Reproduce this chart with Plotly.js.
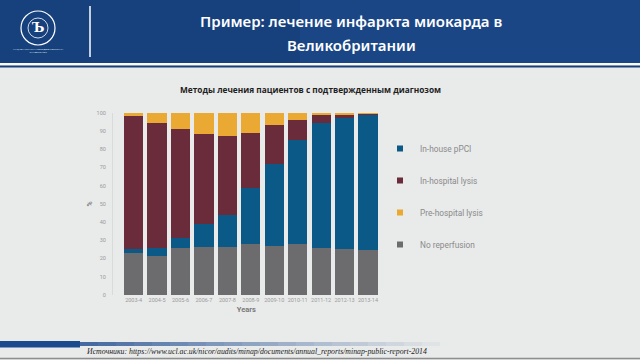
<!DOCTYPE html>
<html><head><meta charset="utf-8">
<script src="https://cdn.plot.ly/plotly-3.0.1.min.js"></script>
<style>html,body{margin:0;padding:0;background:#e9eaea;}#chart{width:640px;height:360px;}</style>
</head><body><div id="chart"></div>
<script>
const years = ["2003-4","2004-5","2005-6","2006-7","2007-8","2008-9","2009-10","2010-11","2011-12","2012-13","2013-14"];
const noReperfusion = [23, 21.5, 26, 26.5, 26.5, 28, 27, 28, 26, 25.5, 24.5];
const inHousePPCI   = [2, 4.5, 5.5, 12.5, 17.5, 30.5, 45, 57, 68.5, 71.5, 74];
const inHospitalLysis = [73, 68.5, 59.5, 49.5, 43, 30.5, 21, 11, 4, 2, 1];
const preHospitalLysis = [2, 5.5, 9, 11.5, 13, 11, 7, 4, 1.5, 1, 0.5];
const yTicks = [0,10,20,30,40,50,60,70,80,90,100];

const seriesNames = ["No reperfusion","In-house pPCI","In-hospital lysis","Pre-hospital lysis"];
const seriesValues = [noReperfusion, inHousePPCI, inHospitalLysis, preHospitalLysis];
const seriesColors = ["#6c6c6f","#0a5986","#6a2b3b","#eaa933"];
const legendRanks = [4,1,2,3];

const W = 640, H = 360;
const px = v => v / W;
const py = v => 1 - v / H;

const traces = [];
seriesNames.forEach((n, i) => {
  traces.push({type:'bar', x: years, y: seriesValues[i], name: n, marker:{color: seriesColors[i]},
    showlegend:false, hoverinfo:'x+y+name'});
});
seriesNames.forEach((n, i) => {
  traces.push({type:'scatter', mode:'markers', x:[null], y:[null], name:n, legendrank: legendRanks[i],
    legendgroup:'g'+i, marker:{symbol:'square', size:6, color: seriesColors[i]}, hoverinfo:'skip'});
});

const shapes = [];
// header
shapes.push({type:'rect', xref:'paper', yref:'paper', x0:0, x1:1, y0:py(63), y1:1, fillcolor:'#1a4686', line:{width:0}, layer:'below'});
shapes.push({type:'rect', xref:'paper', yref:'paper', x0:0, x1:px(300), y0:py(63), y1:1, fillcolor:'#163d78', opacity:0.6, line:{width:0}, layer:'below'});
shapes.push({type:'line', xref:'paper', yref:'paper', x0:0, x1:1, y0:py(64), y1:py(64), line:{color:'#ffffff', width:1.5}});
shapes.push({type:'line', xref:'paper', yref:'paper', x0:0, x1:1, y0:py(66.5), y1:py(66.5), line:{color:'#1a3f78', width:2}});
shapes.push({type:'line', xref:'paper', yref:'paper', x0:px(90), x1:px(90), y0:py(6), y1:py(57), line:{color:'#ffffff', width:1.5}});
// logo
shapes.push({type:'circle', xref:'paper', yref:'paper', x0:px(21), x1:px(55), y0:py(45), y1:py(11), line:{color:'#ffffff', width:1.2}});
shapes.push({type:'circle', xref:'paper', yref:'paper', x0:px(28), x1:px(48), y0:py(38), y1:py(18), line:{color:'#ffffff', width:0.8}});
// footer
shapes.push({type:'rect', xref:'paper', yref:'paper', x0:0, x1:px(80), y0:py(347.5), y1:py(341), fillcolor:'#1c4a8e', line:{width:0}});
for (let k = 0; k < 20; k++) {
  const a = px(80 + k*18), b = px(80 + (k+1)*18);
  shapes.push({type:'rect', xref:'paper', yref:'paper', x0:a, x1:b, y0:py(346), y1:py(342), fillcolor:'#1c4a8e', opacity: 0.8*(1-k/20), line:{width:0}});
}
shapes.push({type:'line', xref:'paper', yref:'paper', x0:0, x1:1, y0:py(358.5), y1:py(358.5), line:{color:'#8d8d8d', width:1.5}});

const annotations = [
  {xref:'paper', yref:'paper', x:px(351), y:py(21), text:'Пример: лечение инфаркта миокарда в', showarrow:false,
    font:{family:'Noto Sans, sans-serif', size:15, weight:600, color:'#ffffff'}, xanchor:'center', yanchor:'middle'},
  {xref:'paper', yref:'paper', x:px(351), y:py(45), text:'Великобритании', showarrow:false,
    font:{family:'Noto Sans, sans-serif', size:15, weight:600, color:'#ffffff'}, xanchor:'center', yanchor:'middle'},
  {xref:'paper', yref:'paper', x:px(38), y:py(28), text:'<b>Ъ</b>', showarrow:false,
    font:{family:'DejaVu Serif, serif', size:13, color:'#ffffff'}, xanchor:'center', yanchor:'middle'},
  {xref:'paper', yref:'paper', x:px(38), y:py(51), text:'НАЦИОНАЛЬНЫЙ ИССЛЕДОВАТЕЛЬСКИЙ<br>УНИВЕРСИТЕТ', showarrow:false,
    font:{family:'Noto Sans, sans-serif', size:2.5, color:'#dfe6f0'}, xanchor:'center', yanchor:'middle'},
  {xref:'paper', yref:'paper', x:px(310), y:py(89.5), text:'<b>Методы лечения пациентов с подтвержденным диагнозом</b>', showarrow:false,
    font:{family:'Open Sans, sans-serif', size:8.3, color:'#1e1e1e'}, xanchor:'center', yanchor:'middle'},
  {xref:'paper', yref:'paper', x:px(84), y:py(351.5), text:'<i>Источники: https://www.ucl.ac.uk/nicor/audits/minap/documents/annual_reports/minap-public-report-2014</i>', showarrow:false,
    font:{family:'Liberation Serif, serif', size:7.8, color:'#222222'}, xanchor:'left', yanchor:'middle'}
];

const layout = {
  width: W, height: H,
  margin:{l:0, r:0, t:0, b:0},
  paper_bgcolor:'#e9eaea', plot_bgcolor:'#e9eaea',
  barmode:'stack', bargap:0.18,
  font:{family:'Roboto, sans-serif', color:'#8a8a8a'},
  xaxis:{domain:[px(113), px(379.7)], range:[-0.88, 10.5], type:'category', tickvals: years, ticktext: years,
    showgrid:false, zeroline:false, showline:false, ticks:'', tickfont:{size:5.5, color:'#9a9a9a'},
    title:{text:'<b>Years</b>', font:{size:7.5, color:'#7a7a7a'}, standoff:5}, fixedrange:true},
  yaxis:{domain:[py(295), py(112.7)], range:[0, 100], tickvals: yTicks, showgrid:false, zeroline:false,
    showline:true, linecolor:'#dadada', linewidth:1, ticks:'outside', ticklen:5, tickcolor:'rgba(0,0,0,0)',
    tickfont:{size:5.5, color:'#9a9a9a'}, title:{text:'<b>%</b>', font:{size:7, color:'#7a7a7a'}, standoff:3}, fixedrange:true},
  showlegend:true,
  legend:{x:px(380), y:py(134), xanchor:'left', yanchor:'top', bgcolor:'rgba(0,0,0,0)', borderwidth:0,
    tracegroupgap:13, font:{size:8.3, color:'#8a8a8a', family:'Roboto, sans-serif'}},
  shapes: shapes, annotations: annotations
};
Plotly.newPlot('chart', traces, layout, {displayModeBar:false, staticPlot:true});
</script></body></html>
